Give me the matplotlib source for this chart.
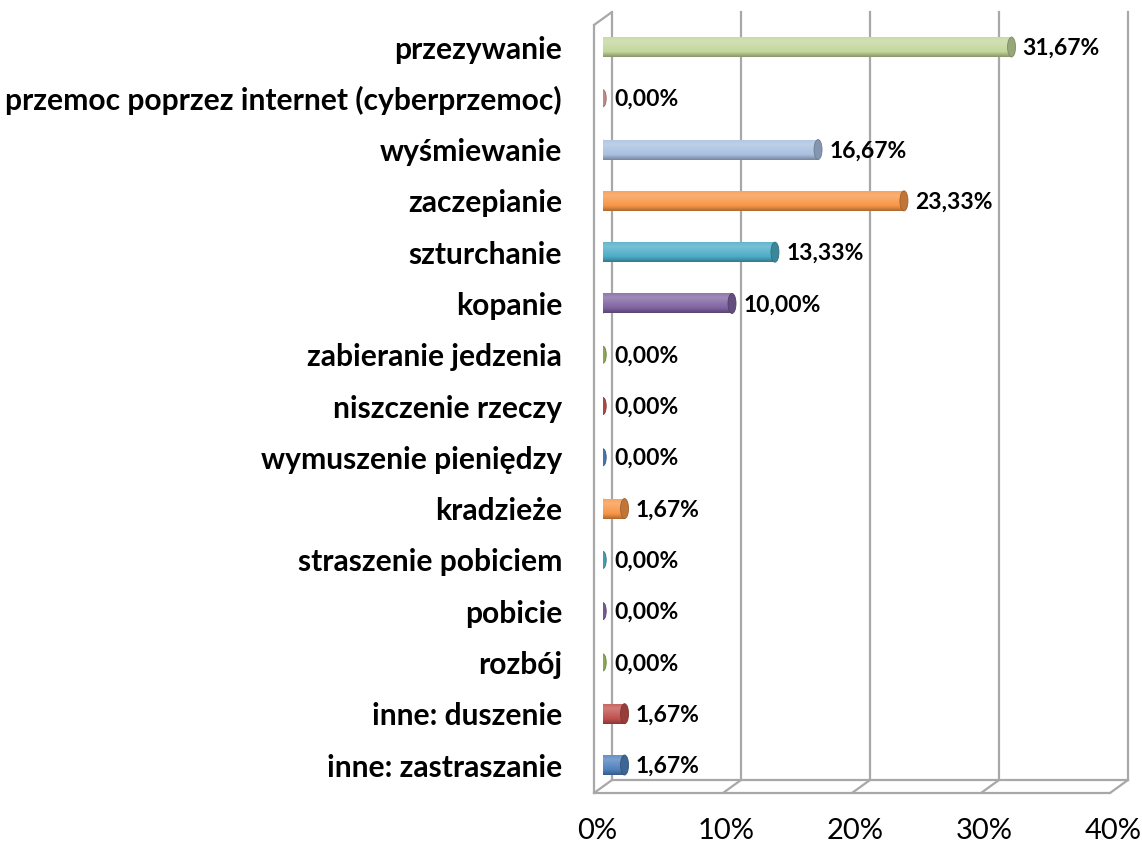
import numpy as np
import matplotlib
matplotlib.use("Agg")
import matplotlib.pyplot as plt
from matplotlib.patches import Ellipse
from matplotlib.transforms import ScaledTranslation
from matplotlib.colors import to_rgb

# ---------------- data (bottom -> top) ----------------
categories = [
    "inne: zastraszanie", "inne: duszenie", "rozbój", "pobicie",
    "straszenie pobiciem", "kradzieże", "wymuszenie pieniędzy",
    "niszczenie rzeczy", "zabieranie jedzenia", "kopanie", "szturchanie",
    "zaczepianie", "wyśmiewanie", "przemoc poprzez internet (cyberprzemoc)",
    "przezywanie",
]
values = [1.67, 1.67, 0.00, 0.00, 0.00, 1.67, 0.00, 0.00, 0.00,
          10.00, 13.33, 23.33, 16.67, 0.00, 31.67]
bar_colors = ["#4F81BD", "#C0504D", "#9BBB59", "#8064A2", "#4BACC6", "#F79646",
              "#4F81BD", "#C0504D", "#9BBB59", "#8064A2", "#4BACC6", "#F79646",
              "#A9C0E0", "#D99694", "#C3D69B"]
xticks = [0, 10, 20, 30, 40]
xtick_labels = ["0%", "10%", "20%", "30%", "40%"]

plt.rcParams['font.family'] = ['Lato', 'DejaVu Sans']

W, H, DPI = 1142, 846, 100
fig = plt.figure(figsize=(W / DPI, H / DPI), dpi=DPI)
left_px, right_px = 603, 1119
top_px, bot_px = 18.5, 786.5
ax = fig.add_axes([left_px / W, 1 - bot_px / H, (right_px - left_px) / W, (bot_px - top_px) / H])
ax.set_facecolor("none")
for s in ax.spines.values():
    s.set_visible(False)

y = np.arange(len(categories))
bh = 0.39
px_per_unit = (right_px - left_px) / 40.0
cap_w = 8.0 / px_per_unit


def mix(c, other, a):
    c = np.array(to_rgb(c)); o = np.array(to_rgb(other))
    return c * (1 - a) + o * a


def gradient(c):
    t = np.linspace(0, 1, 64)
    dark = mix(c, "black", 0.30)
    base = np.array(to_rgb(c))
    hi = mix(c, "white", 0.25)
    top = mix(c, "white", 0.10)
    out = np.zeros((64, 1, 3))
    for i, tt in enumerate(t):
        if tt < 0.25:
            col = dark + (base - dark) * (tt / 0.25)
        elif tt < 0.75:
            col = base + (hi - base) * ((tt - 0.25) / 0.5)
        else:
            col = hi + (top - hi) * ((tt - 0.75) / 0.25)
        out[i, 0] = col
    return out


# ---------------- 3D frame ----------------
dpt = fig.dpi_scale_trans
tx = ax.get_xaxis_transform()
back = tx + ScaledTranslation(9 / DPI, 6.5 / DPI, dpt)
front = tx + ScaledTranslation(-9 / DPI, -6.5 / DPI, dpt)
gc, glw = "#a8a8a8", 1.6
for t in xticks:
    ax.plot([t, t], [0, 1], color=gc, lw=glw, transform=back, clip_on=False, zorder=0)
for t in xticks:
    ax.annotate("", xy=(t, 0), xycoords=front, xytext=(t, 0), textcoords=back,
                arrowprops=dict(arrowstyle="-", color=gc, lw=glw, shrinkA=0, shrinkB=0))
ax.plot([xticks[0], xticks[-1]], [0, 0], color=gc, lw=glw, transform=back, clip_on=False, zorder=0)
ax.plot([xticks[0], xticks[-1]], [0, 0], color=gc, lw=glw, transform=front, clip_on=False, zorder=0)
ax.plot([0, 0], [0, 1], color=gc, lw=glw, transform=front, clip_on=False, zorder=0)
ax.annotate("", xy=(0, 1), xycoords=front, xytext=(0, 1), textcoords=back,
            arrowprops=dict(arrowstyle="-", color=gc, lw=glw, shrinkA=0, shrinkB=0))

# ---------------- bars ----------------
bars = ax.barh(y, values, height=bh, color=bar_colors, edgecolor="none", zorder=3)
for i, (b, v, c) in enumerate(zip(bars, values, bar_colors)):
    if v > 0:
        ax.add_patch(Ellipse((0, y[i]), cap_w, bh, facecolor=mix(c, "black", 0.05),
                             edgecolor="none", zorder=2.5))
        im = ax.imshow(gradient(c), extent=(0, v, y[i] - bh / 2, y[i] + bh / 2),
                       origin="lower", aspect="auto", zorder=3.2, interpolation="bilinear")
        im.set_clip_path(b)
        ax.add_patch(Ellipse((v, y[i]), cap_w, bh, facecolor=mix(c, "black", 0.22),
                             edgecolor=mix(c, "black", 0.35), lw=0.6, zorder=3.5))
    else:
        ax.add_patch(Ellipse((v, y[i]), cap_w * 0.8, bh * 0.85, facecolor=mix(c, "black", 0.1),
                             edgecolor=mix(c, "black", 0.3), lw=0.6, zorder=3.5))
    lab = f"{v:.2f}".replace(".", ",") + "%"
    ax.annotate(lab, xy=(v, y[i]), xytext=(8, -1), textcoords="offset points",
                ha="left", va="center", fontsize=16.5, fontweight="bold", color="black",
                zorder=5)

ax.set_xlim(0, 40)
ax.set_ylim(-0.419, 14.556)

ax.set_yticks(y, categories, fontsize=21.6, fontweight="bold")
ax.tick_params(axis="y", length=0, pad=29.5)
ax.set_xticks(xticks, xtick_labels, fontsize=21)
ax.tick_params(axis="x", length=0, pad=23)
for lbl in ax.get_xticklabels():
    lbl.set_transform(lbl.get_transform() + ScaledTranslation(-6 / DPI, 0, dpt))

fig.savefig("out.png", dpi=DPI, facecolor="white")
